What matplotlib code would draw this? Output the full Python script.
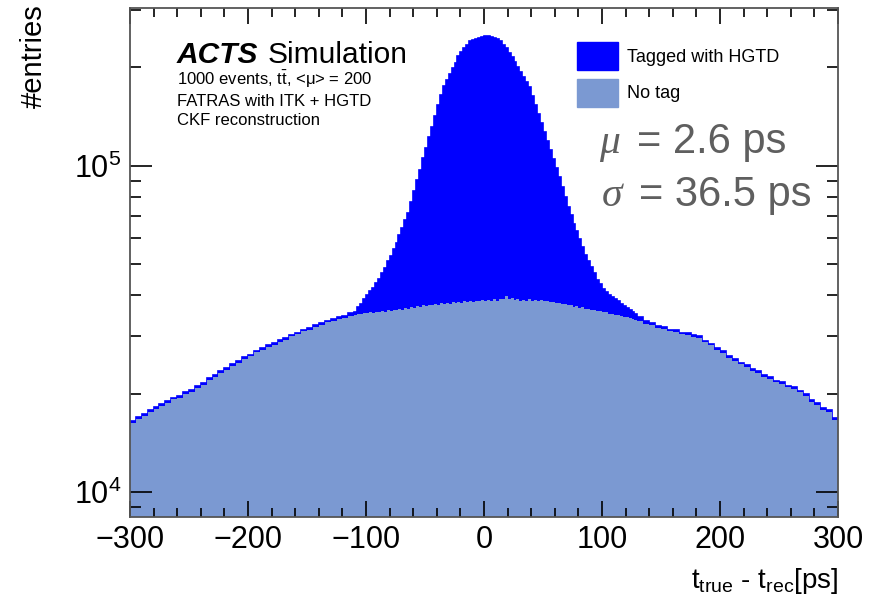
import numpy as np
import matplotlib
matplotlib.use("Agg")
import matplotlib.pyplot as plt
from matplotlib.patches import Patch
from matplotlib.ticker import LogLocator, MultipleLocator, NullFormatter, LogFormatterSciNotation

plt.rcParams['font.family'] = ['Liberation Sans', 'DejaVu Sans']
plt.rcParams['mathtext.fontset'] = 'custom'
plt.rcParams['mathtext.rm'] = 'Liberation Sans'
plt.rcParams['mathtext.it'] = 'Liberation Sans:italic'
plt.rcParams['mathtext.bf'] = 'Liberation Sans:bold'

# ---------------- data ----------------
# bins: 5 ps in the wings, 2.5 ps in the core (-110 .. 130 ps)
x_min, x_max = -300, 300
core_lo, core_hi = -110, 130
wing_width, core_width = 5.0, 2.5

notag_left = [
    16260, 16700, 17100, 17600, 17950, 18400, 18700, 19200, 19450, 19950,
    20300, 20850, 21300, 22050, 22500, 23200, 23700, 24400, 24900, 25600,
    26050, 26800, 27250, 27900, 28250, 28900, 29300, 30000, 30400, 31050,
    31400, 32100, 32450, 33100, 33350, 33900, 34150, 34650,
]
notag_core = [
    34830, 35200, 35100, 35450, 35300, 35500, 35400, 35700, 35550, 35850,
    35700, 36000, 35900, 36100, 36050, 36350, 36200, 36600, 36450, 36750,
    36650, 37050, 36850, 37300, 37050, 37450, 37300, 37650, 37450, 37800,
    37650, 38000, 37700, 38100, 37900, 38250, 37950, 38350, 38150, 38450,
    38200, 38600, 38350, 38700, 38400, 38800, 38500, 38900, 38550, 39000,
    38900, 39800, 38950, 39200, 38650, 38900, 38500, 38850, 38450, 38900,
    38500, 38800, 38450, 38750, 38450, 38400, 38200, 38100, 37850, 37900,
    37550, 37600, 37300, 37350, 37000, 37050, 36700, 36750, 36450, 36400,
    36200, 36100, 35850, 35800, 35550, 35500, 35200, 35150, 34900, 34850,
    34600, 34450, 34300, 34050, 33950, 33650,
]
notag_right = [
    33350, 32750, 32450, 31850, 31550, 31050, 30900, 30400, 30250, 29850,
    29650, 28750, 28150, 27200, 26650, 25750, 25250, 24600, 24200, 23550,
    23150, 22500, 22200, 21650, 21450, 20900, 20700, 20200, 19650, 18850,
    18450, 17850, 17550, 16600,
]

tagged_left = [
    250, 240, 260, 250, 250, 260, 250, 270, 260, 260,
    280, 270, 290, 280, 280, 290, 280, 300, 290, 300,
    320, 310, 330, 320, 330, 340, 330, 340, 350, 350,
    350, 360, 380, 400, 420, 450, 520, 600,
]
tagged_core = [
    820, 1730, 2690, 3670, 4690, 5810, 6880, 7990, 9430, 11150,
    12940, 14930, 16870, 19240, 22070, 25020, 28260, 31600, 35220, 40810,
    46750, 53260, 60200, 67850, 75960, 84870, 94090, 104400, 115520, 127130,
    138040, 145440, 153160, 160670, 168980, 177690, 184690, 190410, 195620, 201620,
    204830, 206530, 208140, 209240, 210950, 210350, 209060, 207360, 206260, 201170,
    194910, 188740, 182810, 175900, 168770, 161760, 154960, 147960, 141660, 135560,
    125060, 114860, 105260, 96260, 87950, 80530, 73120, 66590, 60470, 54280,
    48320, 42670, 37490, 33000, 29390, 26000, 22790, 19750, 16900, 14680,
    12560, 10640, 8810, 7450, 6180, 5390, 4910, 4430, 3980, 3600,
    3150, 2790, 2360, 1930, 1680, 1430,
]
tagged_right = [
    1010, 700, 550, 480, 420, 410, 400, 390, 380, 370,
    360, 360, 350, 350, 300, 300, 300, 290, 290, 290,
    280, 280, 280, 270, 260, 260, 250, 250, 250, 250,
    240, 240, 240, 230,
]

labels = ["Tagged with HGTD", "No tag"]
mu_text = "= 2.6 ps"
sigma_text = "= 36.5 ps"

# ---------------- style ----------------
BLUE = "#0000ff"
LIGHT = "#7b99d2"
GRAY = "#5f5f5f"

W, H = 875, 606
fig = plt.figure(figsize=(W / 100, H / 100), dpi=100)
ax = fig.add_axes([130 / W, 1 - 517 / H, (838 - 130) / W, (517 - 8) / H])

edges = np.concatenate([
    np.arange(x_min, core_lo, wing_width),
    np.arange(core_lo, core_hi, core_width),
    np.arange(core_hi, x_max + 0.1, wing_width),
])
notag = np.array(notag_left + notag_core + notag_right, dtype=float)
tagged = np.array(tagged_left + tagged_core + tagged_right, dtype=float)
total = notag + tagged

ax.stairs(total, edges, baseline=1, fill=True, color=BLUE, lw=0)
ax.stairs(total, edges, baseline=None, color=BLUE, lw=1.2)
ax.stairs(notag, edges, baseline=1, fill=True, color=LIGHT, lw=0)

ax.set_yscale("log")
ax.set_xlim(x_min, x_max)
ax.set_ylim(8.38e3, 3.04e5)

ax.xaxis.set_major_locator(MultipleLocator(100))
ax.xaxis.set_minor_locator(MultipleLocator(20))
ax.yaxis.set_major_locator(LogLocator(base=10))
ax.yaxis.set_minor_locator(LogLocator(base=10, subs=np.arange(2, 10)))
ax.yaxis.set_minor_formatter(NullFormatter())
ax.yaxis.set_major_formatter(LogFormatterSciNotation())

ax.tick_params(which="both", direction="in", top=True, right=True, colors="black", width=1.2)
ax.xaxis.set_tick_params(which="major", length=11.5, labelsize=22, pad=6)
ax.xaxis.set_tick_params(which="minor", length=6.5)
ax.yaxis.set_tick_params(which="major", length=16, labelsize=22, pad=6)
ax.yaxis.set_tick_params(which="minor", length=8)
for s in ax.spines.values():
    s.set_color("#555555")
    s.set_linewidth(1.3)


def px(x, y):
    return x / W, 1 - y / H


# axis titles
fig.text(*px(34, 4), "#entries", rotation=90, ha="center", va="top", fontsize=21)
fig.text(*px(838, 588), r"t$_{\rm true}$ - t$_{\rm rec}$[ps]", ha="right", va="baseline", fontsize=20)

# ACTS label
fig.text(*px(177, 63), "ACTS", fontsize=21.5, fontweight="bold", fontstyle="italic", va="baseline")
fig.text(*px(268, 63), "Simulation", fontsize=21.5, va="baseline")
fig.text(*px(177, 85), r"1000 events, t$\bar{\rm t}$, <μ> = 200", fontsize=12, va="baseline")
fig.text(*px(177, 106), "FATRAS with ITK + HGTD", fontsize=12, va="baseline")
fig.text(*px(177, 125), "CKF reconstruction", fontsize=12, va="baseline")

# legend
fs = 13 * 100 / 72
hh = 2.008
fig.legend(handles=[Patch(color=BLUE), Patch(color=LIGHT)], labels=labels,
           loc="upper left", bbox_to_anchor=px(577, 42), bbox_transform=fig.transFigure,
           frameon=False, fontsize=13, handlelength=41 / fs, handleheight=hh,
           handletextpad=9 / fs, labelspacing=0.48, borderpad=0, borderaxespad=0)

# fit results
fig.text(*px(599, 153), "μ", family=["Liberation Serif", "DejaVu Serif"], style="italic",
         fontsize=30, color=GRAY, va="baseline")
fig.text(*px(637, 153), mu_text, fontsize=30, color=GRAY, va="baseline")
fig.text(*px(602, 206), "σ", family=["Liberation Serif", "DejaVu Serif"], style="italic",
         fontsize=30, color=GRAY, va="baseline")
fig.text(*px(639, 206), sigma_text, fontsize=30, color=GRAY, va="baseline")

fig.savefig("out.png", dpi=100)
